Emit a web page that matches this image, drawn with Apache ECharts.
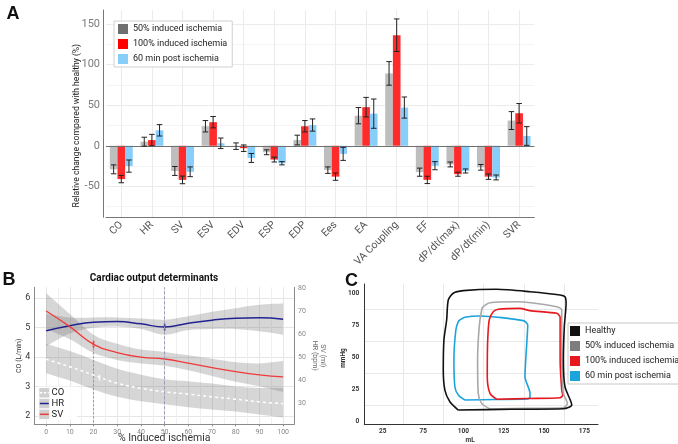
<!DOCTYPE html>
<html><head><meta charset="utf-8">
<script src="https://cdn.jsdelivr.net/npm/echarts@6/dist/echarts.min.js"></script>
<style>html,body{margin:0;padding:0;background:#fff}#c{width:678px;height:444px}</style>
</head><body><div id="c"></div><script>
// ---------- Panel A data ----------
const categories = ['CO','HR','SV','ESV','EDV','ESP','EDP','Ees','EA','VA Coupling','EF','dP/dt(max)','dP/dt(min)','SVR'];
const groupNames = ['50% induced ischemia','100% induced ischemia','60 min post ischemia'];
const mean50   = [-29, 5, -31, 24, -0.5, -8, 7, -30, 37, 89, -32.5, -23, -26.5, 31];
const err50    = [5.5, 5.5, 5.5, 7, 4, 3, 6, 4, 10, 14.5, 5, 3, 3.5, 11];
const mean100  = [-41, 7, -42, 29, -3, -17, 24, -38, 47.5, 136, -42, -35, -38, 40];
const err100   = [4.5, 7, 4.7, 7, 4, 3, 7, 4.5, 12, 20, 4.5, 2.5, 3.3, 12];
const meanPost = [-25, 19, -32, 3, -15, -21.5, 25.5, -10, 39.5, 47, -24.5, -31, -39, 12];
const errPost  = [7.5, 7, 6, 6.5, 5.5, 2, 7.5, 8, 18, 13, 5, 2.5, 3, 11.5];
const yTicksA  = [-50, 0, 50, 100, 150];
const yMinorA  = [-75, -25, 25, 75, 125];

// ---------- Panel B data ----------
const xB      = [0, 10, 20, 30, 40, 50, 60, 70, 80, 90, 100];
const xTicksB = [0, 10, 20, 30, 40, 50, 60, 70, 80, 90, 100];
const xMinorB = [5, 15, 25, 35, 45, 55, 65, 75, 85, 95];
const coTicks = [2, 3, 4, 5, 6];
const rightTicksB = [30, 40, 50, 60, 70, 80];
const hrLine  = [61.7, 63.9, 65.4, 65.7, 64.7, 63.3, 65.0, 66.3, 67.1, 67.3, 66.7];
const hrUpper = [69, 67.5, 67.5, 67.5, 67, 66.5, 68, 70, 71.5, 73, 73.5];
const hrLower = [55, 60.5, 63, 63.5, 62.5, 60, 62, 62.5, 62.5, 61.5, 60];
const svLine  = [70.3, 63.5, 55.8, 52.2, 50.2, 49.4, 47.6, 45.7, 43.9, 42.5, 41.6];
const svUpper = [78, 69, 60, 56, 53.5, 52.5, 51, 49.5, 48, 47.5, 48.5];
const svLower = [62.5, 58, 52, 49, 47.5, 46.5, 44.5, 42, 39.5, 37.5, 35];
const coLine  = [3.92, 3.67, 3.39, 3.11, 2.94, 2.82, 2.74, 2.65, 2.57, 2.48, 2.42];
const coUpper = [4.45, 4.2, 3.9, 3.6, 3.4, 3.25, 3.18, 3.1, 3.0, 2.95, 2.95];
const coLower = [3.45, 3.2, 2.9, 2.65, 2.5, 2.4, 2.3, 2.22, 2.15, 2.05, 1.95];
const svMarker = [20, 55.8];
const hrMarker = [50, 63.3];
const coMarker = [22.5, 3.3];
const refLineX = 50;

// ---------- Panel C data (ml, mmHg) ----------
const pvNames = ['Healthy','50% induced ischemia','100% induced ischemia','60 min post ischemia'];
const healthyLoop = [[96.8,8.6],[130,9.2],[162,9.6],[167.2,12.5],[163,26.8],[162,47.7],[162.6,73.7],[163.7,92],[163,97],[160,98.4],[141.3,101],[120.6,102.9],[99.9,101.8],[93.7,99.8],[90.6,94.5],[89.6,78.9],[87.9,63.3],[87.5,39.8],[88.5,24.2],[91.6,15.1],[96.8,8.6]];
const loop50 = [[116.5,9.4],[140,9.9],[162,10.4],[164.5,13.8],[162,21.6],[161,60.7],[161,86.7],[157.9,89.3],[133,93.2],[116.5,92.4],[112.3,89.3],[111.3,86.7],[109.8,73.7],[108.8,47.7],[109.2,21.6],[111.3,13.8],[116.5,9.4]];
const loop100 = [[120.6,17],[140,17.6],[160,18.2],[161.6,20.3],[161,24.2],[160,47.7],[160,81],[157.9,84.1],[141.3,86.2],[135.1,88],[121.6,87.3],[118.5,85.4],[116,78.9],[115,60.7],[114.8,34.6],[116.5,21.6],[120.6,17]];
const loopPost = [[100.9,16.4],[120,16.8],[139.3,17.2],[141.3,18.5],[141.3,21.6],[138.2,34.6],[139.3,60.7],[139.9,75],[137.1,78.4],[110.2,82],[100.9,81],[97.8,78.9],[96.8,77.6],[95.3,71.1],[94.1,47.7],[94.7,26.8],[96.8,20.3],[100.9,16.4]];
const xLabelPosC = [50, 75, 100, 125, 150, 175];
const xLabelTextC = ['25', '75', '100', '125', '150', '175'];
const xGridC = [62.5, 87.5, 112.5, 137.5, 162.5];
const yLabelC = [0, 25, 50, 75, 100];
const yGridC = [12.5, 37.5, 62.5, 87.5];

const FONT = 'Roboto, "Liberation Sans", Arial, sans-serif';
const BOLD = '"Liberation Sans", Arial, sans-serif';
const chart = echarts.init(document.getElementById('c'));

const barColors = ['#bebebe', '#ff2a2a', '#87cefa'];
const legendColorsA = ['#6f6f6f', '#ff0000', '#87cefa'];
const meansA = [mean50, mean100, meanPost];
const errsA = [err50, err100, errPost];
const fracs = [-0.25, 0, 0.25];

function errSeries(means, errs, frac) {
  return {
    type: 'custom', xAxisIndex: 0, yAxisIndex: 0, z: 5, silent: true,
    data: means.map((m, i) => [i, m - errs[i], m + errs[i]]),
    encode: { x: 0, y: [1, 2] },
    renderItem(params, api) {
      const band = api.size([1, 0])[0];
      const x = api.coord([api.value(0), 0])[0] + band * frac;
      const lo = api.coord([api.value(0), api.value(1)])[1];
      const hi = api.coord([api.value(0), api.value(2)])[1];
      const w = band * 0.09;
      const st = { stroke: '#222', lineWidth: 1 };
      return { type: 'group', children: [
        { type: 'line', shape: { x1: x, y1: lo, x2: x, y2: hi }, style: st },
        { type: 'line', shape: { x1: x - w, y1: lo, x2: x + w, y2: lo }, style: st },
        { type: 'line', shape: { x1: x - w, y1: hi, x2: x + w, y2: hi }, style: st }
      ]};
    }
  };
}

// Catmull-Rom path through pixel points
function crPath(pts, start) {
  let d = start ? 'M' + pts[0][0] + ' ' + pts[0][1] : 'L' + pts[0][0] + ' ' + pts[0][1];
  for (let i = 0; i < pts.length - 1; i++) {
    const p0 = pts[Math.max(i - 1, 0)], p1 = pts[i], p2 = pts[i + 1], p3 = pts[Math.min(i + 2, pts.length - 1)];
    const c1x = p1[0] + (p2[0] - p0[0]) / 6, c1y = p1[1] + (p2[1] - p0[1]) / 6;
    const c2x = p2[0] - (p3[0] - p1[0]) / 6, c2y = p2[1] - (p3[1] - p1[1]) / 6;
    d += ' C' + c1x + ' ' + c1y + ' ' + c2x + ' ' + c2y + ' ' + p2[0] + ' ' + p2[1];
  }
  return d;
}

const bandColor = 'rgba(120,120,120,0.3)';
function bandSeries(yIdx, lo, hi) {
  return {
    type: 'custom', xAxisIndex: 2, yAxisIndex: yIdx, silent: true, z: 1,
    data: xB.map((x, i) => [x, lo[i], hi[i]]),
    encode: { x: 0, y: [1, 2] },
    renderItem(params, api) {
      if (params.dataIndex !== 0) return null;
      const top = xB.map((x, i) => api.coord([x, hi[i]]));
      const bot = xB.map((x, i) => api.coord([x, lo[i]])).reverse();
      const d = crPath(top, true) + ' ' + crPath(bot, false) + ' Z';
      return { type: 'path', shape: { pathData: d }, style: { fill: bandColor } };
    }
  };
}

const series = [];
// Panel A bars
groupNames.forEach((n, k) => {
  const s = {
    name: n, type: 'bar', xAxisIndex: 0, yAxisIndex: 0,
    data: meansA[k], barWidth: '25%', barGap: '0%',
    itemStyle: { color: barColors[k] }, silent: true
  };
  if (k === 0) {
    s.markLine = { silent: true, symbol: 'none', label: { show: false },
      lineStyle: { color: '#707070', width: 1, type: 'solid' }, data: [{ yAxis: 0 }] };
  }
  series.push(s);
});
groupNames.forEach((n, k) => series.push(errSeries(meansA[k], errsA[k], fracs[k])));

// Panel B bands
series.push(bandSeries(2, coLower, coUpper));
series.push(bandSeries(3, hrLower, hrUpper));
series.push(bandSeries(3, svLower, svUpper));

// Reference lines
series.push({ type: 'line', xAxisIndex: 2, yAxisIndex: 3, symbol: 'none', silent: true,
  data: [[svMarker[0], svMarker[1]], [svMarker[0], 21]], lineStyle: { color: '#f26b6b', type: [2, 2], width: 1 } });
series.push({ type: 'line', xAxisIndex: 2, yAxisIndex: 3, symbol: 'none', silent: true, data: [],
  markLine: { silent: true, symbol: 'none', label: { show: false }, lineStyle: { color: '#9a9ab4', type: [3, 2], width: 1 },
    data: [{ xAxis: refLineX }] } });

// Lines
series.push({ name: 'CO', type: 'line', xAxisIndex: 2, yAxisIndex: 2, smooth: true, symbol: 'none', silent: true,
  data: xB.map((x, i) => [x, coLine[i]]), lineStyle: { color: '#ffffff', width: 1.5, type: [3, 3] } });
series.push({ name: 'HR', type: 'line', xAxisIndex: 2, yAxisIndex: 3, smooth: true, symbol: 'none', silent: true,
  data: xB.map((x, i) => [x, hrLine[i]]), lineStyle: { color: '#23238f', width: 1.5 } });
series.push({ name: 'SV', type: 'line', xAxisIndex: 2, yAxisIndex: 3, smooth: true, symbol: 'none', silent: true,
  data: xB.map((x, i) => [x, svLine[i]]), lineStyle: { color: '#f03a3a', width: 1.3 } });
// Markers
series.push({ type: 'scatter', xAxisIndex: 2, yAxisIndex: 3, silent: true, symbol: 'rect', symbolSize: [1.6, 7],
  data: [svMarker], itemStyle: { color: '#e82020' } });
series.push({ type: 'scatter', xAxisIndex: 2, yAxisIndex: 3, silent: true, symbol: 'rect', symbolSize: [1.6, 7],
  data: [hrMarker], itemStyle: { color: '#1a1a8a' } });
series.push({ type: 'scatter', xAxisIndex: 2, yAxisIndex: 2, silent: true, symbol: 'rect', symbolSize: [1.6, 6],
  data: [coMarker], itemStyle: { color: '#ffffff' } });

// Panel C loops
const loopColors = ['#111111', '#a8a8a8', '#e8191e', '#1ba3de'];
[healthyLoop, loop50, loop100, loopPost].forEach((d, k) => {
  series.push({ name: pvNames[k], type: 'line', xAxisIndex: 4, yAxisIndex: 4, smooth: 0.25, symbol: 'none', silent: true,
    data: d, lineStyle: { color: loopColors[k], width: 1.6 }, z: 3 + (3 - k) });
});

const option = {
  animation: false,
  backgroundColor: '#fff',
  textStyle: { fontFamily: FONT },
  grid: [
    { left: 106, top: 10, width: 428.4, height: 207.3, outerBoundsMode: 'none' },
    { left: 34.3, top: 287.3, width: 259.7, height: 137, outerBoundsMode: 'none' },
    { left: 364.3, top: 284, width: 233.7, height: 140, outerBoundsMode: 'none' }
  ],
  xAxis: [
    { type: 'category', gridIndex: 0, data: categories,
      axisLine: { onZero: false, lineStyle: { color: '#777', width: 1 } }, axisTick: { show: false },
      axisLabel: { rotate: 45, fontSize: 10.5, color: '#555', margin: 6, interval: 0, fontFamily: FONT },
      splitLine: { show: false } },
    { type: 'value', gridIndex: 0, min: -0.5, max: 13.5, show: true,
      axisLine: { show: false, onZero: false }, axisLabel: { show: false },
      axisTick: { show: false, customValues: categories.map((c, i) => i) },
      splitLine: { show: true, lineStyle: { color: '#ebebeb', width: 1 } } },
    { type: 'value', gridIndex: 1, min: -5, max: 104.6,
      axisLine: { show: true, onZero: false, lineStyle: { color: '#8a8a8a' } },
      axisTick: { show: true, length: 2, customValues: xTicksB, lineStyle: { color: '#8a8a8a' } },
      axisLabel: { customValues: xTicksB, fontSize: 7, color: '#888', margin: 4 },
      splitLine: { show: true, lineStyle: { color: '#e6e6e6' } },
      name: '% Induced ischemia', nameLocation: 'middle', nameGap: 9, nameMoveOverlap: false,
      nameTextStyle: { fontSize: 10.5, color: '#333', fontFamily: FONT, verticalAlign: 'top' } },
    { type: 'value', gridIndex: 1, min: -5, max: 104.6,
      axisLine: { show: false, onZero: false }, axisLabel: { show: false },
      axisTick: { show: false, customValues: xMinorB },
      splitLine: { show: true, lineStyle: { color: '#f0f0f0' } } },
    { type: 'value', gridIndex: 2, min: 38.5, max: 183.5,
      axisLine: { show: true, onZero: false, lineStyle: { color: '#333', width: 1 } },
      axisTick: { show: false, customValues: xGridC },
      axisLabel: { customValues: xLabelPosC, formatter: v => xLabelTextC[xLabelPosC.indexOf(v)],
        fontSize: 6.5, color: '#333', fontWeight: 'bold', margin: 4 },
      splitLine: { show: true, lineStyle: { color: '#e8e8e8' } },
      name: 'mL', nameLocation: 'middle', nameGap: 13, nameMoveOverlap: false,
      nameTextStyle: { fontSize: 6.5, color: '#333', fontWeight: 'bold', padding: [0, 22, 0, 0] } }
  ],
  yAxis: [
    { type: 'value', gridIndex: 0, min: -88, max: 167, offset: 3,
      axisLine: { show: true, onZero: false, lineStyle: { color: '#777', width: 1 } },
      axisTick: { show: false, customValues: yTicksA },
      axisLabel: { customValues: yTicksA, fontSize: 11, color: '#7a7a7a', margin: 3 },
      splitLine: { show: true, lineStyle: { color: '#ebebeb' } },
      name: 'Relative change compared with healthy (%)', nameLocation: 'middle', nameGap: 22, nameMoveOverlap: false,
      nameTextStyle: { fontSize: 8.6, color: '#222', padding: [0, 24, 0, 0] } },
    { type: 'value', gridIndex: 0, min: -88, max: 167,
      axisLine: { show: false, onZero: false }, axisLabel: { show: false },
      axisTick: { show: false, customValues: yMinorA },
      splitLine: { show: true, lineStyle: { color: '#f4f4f4' } } },
    { type: 'value', gridIndex: 1, min: 1.72, max: 6.36,
      axisLine: { show: true, onZero: false, lineStyle: { color: '#8a8a8a' } },
      axisTick: { show: false, customValues: coTicks },
      axisLabel: { customValues: coTicks, fontSize: 9, color: '#333', margin: 4 },
      splitLine: { show: true, lineStyle: { color: '#e6e6e6' } },
      name: 'CO (L/min)', nameLocation: 'middle', nameGap: 12, nameMoveOverlap: false,
      nameTextStyle: { fontSize: 7, color: '#333' } },
    { type: 'value', gridIndex: 1, min: 21, max: 80.6, position: 'right',
      axisLine: { show: true, onZero: false, lineStyle: { color: '#8a8a8a' } },
      axisTick: { show: false, customValues: rightTicksB },
      axisLabel: { customValues: rightTicksB, fontSize: 7, color: '#888', margin: 4 },
      splitLine: { show: false },
      name: 'SV (ml)\nHR (bpm)', nameLocation: 'middle', nameGap: 17, nameRotate: -90, nameMoveOverlap: false,
      nameTextStyle: { fontSize: 7, color: '#666', lineHeight: 8 } },
    { type: 'value', gridIndex: 2, min: -2.3, max: 107,
      axisLine: { show: true, onZero: false, lineStyle: { color: '#333', width: 1 } },
      axisTick: { show: false, customValues: yGridC },
      axisLabel: { customValues: yLabelC, fontSize: 6.5, color: '#333', fontWeight: 'bold', margin: 5 },
      splitLine: { show: true, lineStyle: { color: '#e8e8e8' } } }
  ],
  legend: [
    { left: 114, top: 21, orient: 'vertical', icon: 'rect', itemWidth: 10, itemHeight: 10, itemGap: 5,
      padding: [3, 5, 3, 4], borderColor: '#d0d0d0', borderWidth: 1, backgroundColor: '#fff', selectedMode: false,
      textStyle: { fontSize: 9, color: '#222', lineHeight: 10, fontFamily: FONT },
      data: groupNames.map((n, k) => ({ name: n, itemStyle: { color: legendColorsA[k] } })) },
    { left: 568, top: 323, orient: 'vertical', icon: 'rect', itemWidth: 10, itemHeight: 10, itemGap: 5,
      padding: [3, 2, 3, 2], borderColor: '#c8c8c8', borderWidth: 1, backgroundColor: '#fff', selectedMode: false,
      textStyle: { fontSize: 9, color: '#222', lineHeight: 10, fontFamily: FONT },
      data: pvNames.map((n, k) => ({ name: n, itemStyle: { color: ['#111111', '#7d7d7d', '#e8191e', '#1ba3de'][k] } })) }
  ],
  graphic: [
    { type: 'text', x: 6.5, y: 14.5, style: { text: 'A', fontSize: 18, fontWeight: 'bold', fontFamily: BOLD, fill: '#111', verticalAlign: 'middle' } },
    { type: 'text', x: 2.5, y: 280.5, style: { text: 'B', fontSize: 18, fontWeight: 'bold', fontFamily: BOLD, fill: '#111', verticalAlign: 'middle' } },
    { type: 'text', x: 345, y: 281.5, style: { text: 'C', fontSize: 18, fontWeight: 'bold', fontFamily: BOLD, fill: '#111', verticalAlign: 'middle' } },
    { type: 'text', x: 154, y: 278, style: { text: 'Cardiac output determinants', fontSize: 10, fontWeight: 'bold', fontFamily: FONT, fill: '#111', align: 'center', verticalAlign: 'middle' } },
    { type: 'text', x: 343, y: 358, rotation: Math.PI / 2, style: { text: 'mmHg', fontSize: 6.5, fontWeight: 'bold', fontFamily: FONT, fill: '#333', align: 'center', verticalAlign: 'middle' } },
    // Legend B
    { type: 'rect', shape: { x: 38, y: 386.5, width: 39, height: 33 }, style: { fill: 'rgba(255,255,255,0.85)' }, z: 50 },
    { type: 'rect', shape: { x: 39.3, y: 388, width: 10, height: 9.5 }, style: { fill: '#cfcfcf' }, z: 51 },
    { type: 'rect', shape: { x: 39.3, y: 398.8, width: 10, height: 9.5 }, style: { fill: '#cfcfcf' }, z: 51 },
    { type: 'rect', shape: { x: 39.3, y: 409.6, width: 10, height: 9.5 }, style: { fill: '#cfcfcf' }, z: 51 },
    { type: 'line', shape: { x1: 39.8, y1: 392.7, x2: 48.8, y2: 392.7 }, style: { stroke: '#fff', lineWidth: 1.5, lineDash: [2.5, 1.5] }, z: 52 },
    { type: 'line', shape: { x1: 39.8, y1: 403.5, x2: 48.8, y2: 403.5 }, style: { stroke: '#23238f', lineWidth: 1.5 }, z: 52 },
    { type: 'line', shape: { x1: 39.8, y1: 414.3, x2: 48.8, y2: 414.3 }, style: { stroke: '#f03a3a', lineWidth: 1.5 }, z: 52 },
    { type: 'text', x: 51.5, y: 392.7, style: { text: 'CO', fontSize: 9.5, fontFamily: FONT, fill: '#222', verticalAlign: 'middle' }, z: 52 },
    { type: 'text', x: 51.5, y: 403.5, style: { text: 'HR', fontSize: 9.5, fontFamily: FONT, fill: '#222', verticalAlign: 'middle' }, z: 52 },
    { type: 'text', x: 51.5, y: 414.3, style: { text: 'SV', fontSize: 9.5, fontFamily: FONT, fill: '#222', verticalAlign: 'middle' }, z: 52 }
  ],
  series
};
chart.setOption(option);
</script></body></html>
